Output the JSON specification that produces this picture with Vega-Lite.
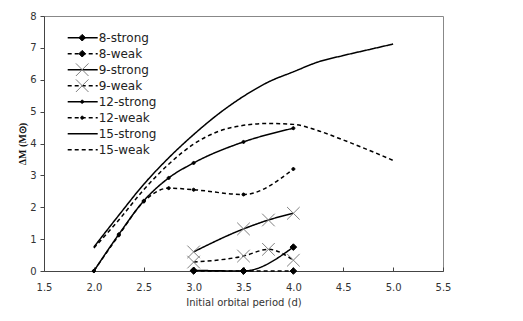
{
  "$schema": "https://vega.github.io/schema/vega-lite/v6.json",
  "width": 399,
  "height": 255,
  "autosize": {"type": "none"},
  "padding": {"left": 44, "top": 16, "right": 80, "bottom": 50},
  "background": "white",
  "config": {
    "view": {"stroke": "#888888", "strokeWidth": 1},
    "font": "DejaVu Sans"
  },
  "data": {
    "values": [
      {"series": "8-strong", "period": 3.0, "dm": 0.02},
      {"series": "8-strong", "period": 3.5, "dm": 0.0},
      {"series": "8-strong", "period": 4.0, "dm": 0.75},
      {"series": "8-weak", "period": 3.0, "dm": 0.0},
      {"series": "8-weak", "period": 3.5, "dm": 0.0},
      {"series": "8-weak", "period": 4.0, "dm": 0.0},
      {"series": "9-strong", "period": 3.0, "dm": 0.6},
      {"series": "9-strong", "period": 3.5, "dm": 1.32},
      {"series": "9-strong", "period": 3.75, "dm": 1.6},
      {"series": "9-strong", "period": 4.0, "dm": 1.81},
      {"series": "9-weak", "period": 3.0, "dm": 0.28},
      {"series": "9-weak", "period": 3.5, "dm": 0.47},
      {"series": "9-weak", "period": 3.75, "dm": 0.68},
      {"series": "9-weak", "period": 4.0, "dm": 0.34},
      {"series": "12-strong", "period": 2.0, "dm": 0.0},
      {"series": "12-strong", "period": 2.25, "dm": 1.15},
      {"series": "12-strong", "period": 2.5, "dm": 2.2},
      {"series": "12-strong", "period": 2.75, "dm": 2.92},
      {"series": "12-strong", "period": 3.0, "dm": 3.39},
      {"series": "12-strong", "period": 3.5, "dm": 4.05},
      {"series": "12-strong", "period": 4.0, "dm": 4.48},
      {"series": "12-weak", "period": 2.0, "dm": 0.0},
      {"series": "12-weak", "period": 2.25, "dm": 1.12},
      {"series": "12-weak", "period": 2.5, "dm": 2.18},
      {"series": "12-weak", "period": 2.75, "dm": 2.6},
      {"series": "12-weak", "period": 3.0, "dm": 2.55},
      {"series": "12-weak", "period": 3.5, "dm": 2.4},
      {"series": "12-weak", "period": 4.0, "dm": 3.2},
      {"series": "15-strong", "period": 2.0, "dm": 0.75},
      {"series": "15-strong", "period": 2.25, "dm": 1.75},
      {"series": "15-strong", "period": 2.5, "dm": 2.72},
      {"series": "15-strong", "period": 2.75, "dm": 3.55},
      {"series": "15-strong", "period": 3.0, "dm": 4.28},
      {"series": "15-strong", "period": 3.25, "dm": 4.93},
      {"series": "15-strong", "period": 3.5, "dm": 5.48},
      {"series": "15-strong", "period": 3.75, "dm": 5.93},
      {"series": "15-strong", "period": 4.0, "dm": 6.25},
      {"series": "15-strong", "period": 4.25, "dm": 6.56},
      {"series": "15-strong", "period": 4.5, "dm": 6.76},
      {"series": "15-strong", "period": 4.75, "dm": 6.94},
      {"series": "15-strong", "period": 5.0, "dm": 7.12},
      {"series": "15-weak", "period": 2.0, "dm": 0.72},
      {"series": "15-weak", "period": 2.25, "dm": 1.6},
      {"series": "15-weak", "period": 2.5, "dm": 2.55},
      {"series": "15-weak", "period": 2.75, "dm": 3.35},
      {"series": "15-weak", "period": 3.0, "dm": 3.98},
      {"series": "15-weak", "period": 3.25, "dm": 4.38},
      {"series": "15-weak", "period": 3.5, "dm": 4.57},
      {"series": "15-weak", "period": 3.75, "dm": 4.63},
      {"series": "15-weak", "period": 4.0, "dm": 4.6},
      {"series": "15-weak", "period": 4.25, "dm": 4.4},
      {"series": "15-weak", "period": 4.5, "dm": 4.11},
      {"series": "15-weak", "period": 4.75, "dm": 3.8},
      {"series": "15-weak", "period": 5.0, "dm": 3.47}
    ]
  },
  "encoding": {
    "x": {
      "field": "period",
      "type": "quantitative",
      "scale": {"domain": [1.5, 5.5], "nice": false, "zero": false},
      "axis": {
        "values": [1.5, 2, 2.5, 3, 3.5, 4, 4.5, 5, 5.5],
        "format": ".1f",
        "grid": false,
        "tickSize": -4,
        "labelPadding": 15.5,
        "labelFlush": false,
        "labelOverlap": false,
        "labelFontSize": 10,
        "labelColor": "#333333",
        "domainColor": "#444444",
        "tickColor": "#444444",
        "title": "Initial orbital period (d)",
        "titleFont": "DejaVu Sans",
        "titleFontSize": 10,
        "titleFontWeight": "normal",
        "titleColor": "#333333",
        "titlePadding": 5
      }
    },
    "y": {
      "field": "dm",
      "type": "quantitative",
      "scale": {"domain": [0, 8], "nice": false},
      "axis": {
        "values": [0, 1, 2, 3, 4, 5, 6, 7, 8],
        "format": "d",
        "grid": false,
        "tickSize": 4,
        "labelPadding": 4,
        "labelFlush": false,
        "labelOverlap": false,
        "labelFontSize": 10,
        "labelColor": "#333333",
        "domainColor": "#444444",
        "tickColor": "#444444",
        "title": "ΔM (M⊙)",
        "titleFont": "Liberation Serif",
        "titleFontSize": 10,
        "titleFontWeight": "bold",
        "titleColor": "#111111",
        "titlePadding": 2
      }
    }
  },
  "layer": [
    {
      "mark": {"type": "line", "interpolate": "monotone", "color": "black", "strokeWidth": 1.5},
      "encoding": {
        "strokeDash": {
          "field": "series",
          "type": "nominal",
          "scale": {
            "domain": ["8-strong", "8-weak", "9-strong", "9-weak", "12-strong", "12-weak", "15-strong", "15-weak"],
            "range": [[1, 0], [4, 3], [1, 0], [4, 3], [1, 0], [4, 3], [1, 0], [4, 3]]
          },
          "legend": {
            "title": null,
            "orient": "none",
            "legendX": 22.7,
            "legendY": 13.7,
            "padding": 0,
            "rowPadding": 0,
            "clipHeight": 16,
            "symbolType": "stroke",
            "symbolSize": 900,
            "symbolStrokeWidth": 1.5,
            "symbolStrokeColor": "black",
            "labelOffset": 0,
            "labelFontSize": 12,
            "labelFont": "DejaVu Sans",
            "labelColor": "#222222"
          }
        }
      }
    },
    {
      "mark": {"type": "point", "size": 900, "opacity": 1, "filled": true, "strokeWidth": 1},
      "encoding": {
        "shape": {
          "field": "series",
          "type": "nominal",
          "scale": {
            "domain": ["8-strong", "8-weak", "9-strong", "9-weak", "12-strong", "12-weak", "15-strong", "15-weak"],
            "range": [
              "M0,-0.22L0.22,0L0,0.22L-0.22,0Z",
              "M0,-0.22L0.22,0L0,0.22L-0.22,0Z",
              "M-0.42,-0.42L0.42,0.42M-0.42,0.42L0.42,-0.42",
              "M-0.42,-0.42L0.42,0.42M-0.42,0.42L0.42,-0.42",
              "M-0.1,0A0.1,0.1,0,1,0,0.1,0A0.1,0.1,0,1,0,-0.1,0Z",
              "M-0.1,0A0.1,0.1,0,1,0,0.1,0A0.1,0.1,0,1,0,-0.1,0Z",
              "M0,0",
              "M0,0"
            ]
          },
          "legend": {
            "title": null,
            "orient": "none",
            "legendX": 22.7,
            "legendY": 13.7,
            "padding": 0,
            "rowPadding": 0,
            "clipHeight": 16,
            "symbolSize": 900,
            "symbolStrokeWidth": 1,
            "labelOffset": 0,
            "labelFontSize": 12,
            "labelFont": "DejaVu Sans",
            "labelOpacity": 0
          }
        },
        "fill": {
          "field": "series",
          "type": "nominal",
          "scale": {
            "domain": ["8-strong", "8-weak", "9-strong", "9-weak", "12-strong", "12-weak", "15-strong", "15-weak"],
            "range": ["black", "black", "transparent", "transparent", "black", "black", "transparent", "transparent"]
          }
        },
        "stroke": {
          "field": "series",
          "type": "nominal",
          "scale": {
            "domain": ["8-strong", "8-weak", "9-strong", "9-weak", "12-strong", "12-weak", "15-strong", "15-weak"],
            "range": ["black", "black", "#808080", "#808080", "black", "black", "transparent", "transparent"]
          }
        }
      }
    }
  ],
  "resolve": {
    "legend": {"strokeDash": "independent", "shape": "independent", "fill": "independent", "stroke": "independent"}
  }
}
